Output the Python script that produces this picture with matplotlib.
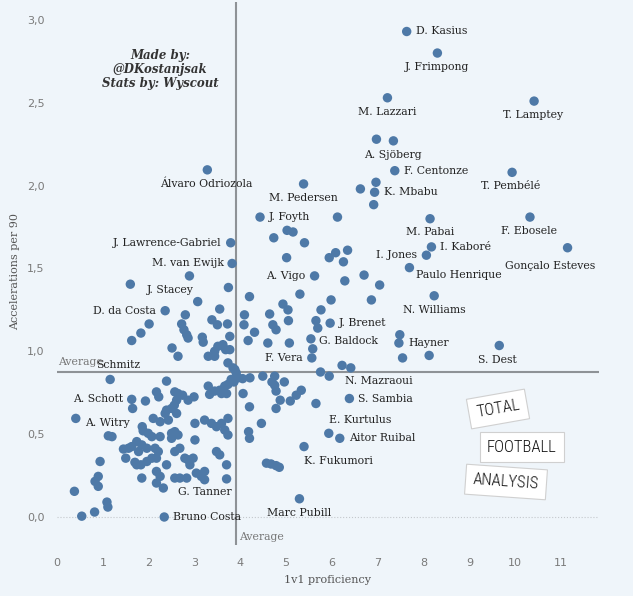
import matplotlib
matplotlib.use("Agg")
import matplotlib.pyplot as plt

# labelled players: name, 1v1 proficiency, accelerations per 90
names = ["D. Kasius", "J. Frimpong", "M. Lazzari", "T. Lamptey", "A. Sjöberg",
         "F. Centonze", "T. Pembélé", "K. Mbabu", "M. Pedersen", "Álvaro Odriozola",
         "J. Foyth", "J. Lawrence-Gabriel", "M. van Ewijk", "J. Stacey", "A. Vigo",
         "M. Pabai", "F. Ebosele", "I. Kaboré", "I. Jones", "Gonçalo Esteves",
         "Paulo Henrique", "D. da Costa", "N. Williams", "J. Brenet", "G. Baldock",
         "Hayner", "S. Dest", "F. Vera", "N. Mazraoui", "S. Sambia",
         "E. Kurtulus", "Aitor Ruibal", "K. Fukumori", "Marc Pubill", "Bruno Costa",
         "G. Tanner", "A. Witry", "A. Schott", "Schmitz"]
name_x = [7.63, 8.30, 7.21, 10.41, 7.34,
          7.37, 9.93, 6.93, 5.38, 3.28,
          4.43, 3.79, 3.82, 2.89, 5.62,
          8.14, 10.32, 8.17, 8.06, 11.14,
          7.69, 2.36, 8.23, 5.96, 5.54,
          7.46, 9.65, 5.56, 6.41, 6.38,
          5.93, 6.17, 5.39, 5.29, 2.34,
          3.70, 0.41, 1.63, 1.16]
name_y = [2.93, 2.80, 2.53, 2.51, 2.27,
          2.09, 2.08, 1.96, 2.01, 2.095,
          1.81, 1.655, 1.53, 1.455, 1.455,
          1.80, 1.81, 1.63, 1.58, 1.625,
          1.505, 1.245, 1.335, 1.17, 1.075,
          1.05, 1.035, 0.96, 0.90, 0.715,
          0.505, 0.475, 0.425, 0.11, 0.0,
          0.23, 0.595, 0.71, 0.83]

# other players (no label)
other_x = [6.97, 6.96, 6.62, 6.91, 6.12, 6.08, 6.34, 5.94, 6.25, 6.70, 7.04, 6.28,
           5.98, 6.86, 7.48, 7.54, 8.12, 6.22, 5.94, 5.75,
           5.02, 5.15, 4.73, 5.40, 5.01, 4.20, 5.30, 4.93, 5.04, 5.05, 4.64, 4.71,
           4.78, 4.09, 4.08, 4.31, 4.17, 4.60, 5.07, 5.76, 5.65, 5.69, 5.58,
           4.05, 4.21, 4.49, 4.75, 4.69, 4.75, 4.96, 4.78, 4.87, 5.09, 5.22, 5.33,
           5.65, 4.20, 4.06, 4.46, 4.78, 4.18, 4.20, 4.57, 4.67, 4.78, 4.85,
           1.60, 3.74, 3.07, 2.80, 3.55, 2.01, 1.83, 1.63, 2.72, 2.77, 2.83, 2.86,
           3.17, 3.19, 3.38, 3.50, 3.72, 3.77, 3.51, 3.62, 3.68, 3.77, 3.44, 3.30,
           3.44, 2.51, 2.64, 3.73, 3.84, 3.91, 3.95, 3.88, 2.39,
           3.30, 3.33, 3.44, 3.55, 3.59, 3.66, 3.70, 3.73, 3.80, 3.86,
           1.65, 1.93, 2.17, 2.22, 2.57, 2.64, 2.74, 2.61, 2.56, 2.86, 2.99,
           1.20, 1.12, 1.86, 1.88, 2.10, 2.25, 2.36, 2.39, 2.50, 2.61, 2.43,
           1.99, 2.07, 2.25, 2.50, 2.57, 2.64, 2.50, 3.01, 3.01,
           3.22, 3.37, 3.48, 3.59, 3.66, 3.73, 3.73,
           0.94, 0.90, 0.83, 0.90, 0.38, 1.09, 1.11, 0.82, 0.54,
           1.45, 1.50, 1.56, 1.63, 1.74, 1.78, 1.85, 1.96, 1.70, 1.74, 1.83, 1.96, 1.85,
           2.14, 2.21, 2.17, 2.07, 2.39, 2.17, 2.25, 2.17, 2.32,
           2.57, 2.68, 2.79, 2.86, 2.97, 2.90, 2.57, 2.68, 2.83,
           3.04, 3.22, 3.15, 3.22, 3.48, 3.55, 3.70]
other_y = [2.28, 2.02, 1.98, 1.885, 1.81, 1.595, 1.61, 1.565, 1.54, 1.46, 1.40, 1.425,
           1.31, 1.31, 1.10, 0.96, 0.975, 0.915, 0.85, 0.875,
           1.73, 1.72, 1.685, 1.655, 1.565, 1.33, 1.345, 1.285, 1.25, 1.185, 1.225, 1.16,
           1.13, 1.22, 1.16, 1.115, 1.065, 1.05, 1.05, 1.25, 1.185, 1.14, 1.015,
           0.835, 0.84, 0.85, 0.85, 0.815, 0.795, 0.815, 0.76, 0.705, 0.70, 0.735, 0.765,
           0.685, 0.665, 0.745, 0.565, 0.655, 0.515, 0.475, 0.325, 0.32, 0.31, 0.30,
           1.405, 1.385, 1.30, 1.22, 1.255, 1.165, 1.11, 1.065, 1.165, 1.13, 1.10, 1.08,
           1.085, 1.055, 1.19, 1.16, 1.165, 1.09, 1.03, 1.04, 1.01, 1.01, 1.00, 0.97,
           0.97, 1.02, 0.97, 0.93, 0.90, 0.87, 0.84, 0.89, 0.82,
           0.79, 0.74, 0.76, 0.765, 0.745, 0.79, 0.745, 0.80, 0.83, 0.815,
           0.655, 0.70, 0.755, 0.725, 0.755, 0.745, 0.735, 0.705, 0.675, 0.705, 0.725,
           0.485, 0.49, 0.545, 0.52, 0.595, 0.575, 0.625, 0.645, 0.655, 0.625, 0.585,
           0.505, 0.485, 0.485, 0.505, 0.515, 0.495, 0.475, 0.565, 0.465,
           0.585, 0.565, 0.545, 0.565, 0.525, 0.495, 0.595,
           0.335, 0.245, 0.215, 0.185, 0.155, 0.09, 0.06, 0.03, 0.005,
           0.41, 0.355, 0.415, 0.425, 0.455, 0.395, 0.435, 0.415, 0.33, 0.315, 0.315, 0.335, 0.235,
           0.415, 0.395, 0.355, 0.355, 0.315, 0.275, 0.245, 0.205, 0.175,
           0.395, 0.415, 0.355, 0.345, 0.355, 0.315, 0.235, 0.235, 0.235,
           0.265, 0.275, 0.245, 0.225, 0.395, 0.375, 0.315]

avg_x = 3.91
avg_y = 0.875

x_ticks = list(range(12))
y_ticks = [0.0, 0.5, 1.0, 1.5, 2.0, 2.5, 3.0]

# label offsets in pixels (dx, dy, ha)
offsets = [(9, 0, "left"), (0, -14, "center"), (0, -14, "center"), (-1, -14, "center"), (-1, -14, "center"),
           (9, 0, "left"), (-1, -14, "center"), (9, 0, "left"), (0, -14, "center"), (-1, -14, "center"),
           (9, 0, "left"), (-9, 0, "right"), (-8, 0, "right"), (-19, -14, "center"), (-9, 0, "right"),
           (0, -13, "center"), (-1, -14, "center"), (9, 0, "left"), (-9, 0, "right"), (-17, -18, "center"),
           (7, -7, "left"), (-9, 0, "right"), (0, -14, "center"), (9, 0, "left"), (8, -2, "left"),
           (9, 0, "left"), (-2, -14, "center"), (-9, 0, "right"), (-6, -13, "left"), (9, 0, "left"),
           (0, 13, "left"), (9, 0, "left"), (0, -14, "left"), (0, -14, "center"), (9, 0, "left"),
           (-22, -13, "center"), (9, -5, "left"), (-9, 0, "right"), (8, 14, "center")]

bg = "#eff5fa"
blue = "#4e79a7"
W, H = 633, 596

fig = plt.figure(figsize=(W / 100, H / 100), dpi=100, facecolor=bg)
ax = fig.add_axes([57 / W, 51 / H, 542 / W, 543 / H], facecolor=bg)

ax.axhline(0, color="#c4c8cc", lw=0.8, ls=":", zorder=1)
ax.axvline(avg_x, color="#8e9296", lw=1.5, zorder=1)
ax.axhline(avg_y, color="#8e9296", lw=1.5, zorder=1)

ax.scatter(other_x, other_y, s=46, color=blue, edgecolors="none", zorder=3)
ax.scatter(name_x, name_y, s=46, color=blue, edgecolors="none", zorder=3)

for n, x, y, (dx, dy, ha) in zip(names, name_x, name_y, offsets):
    ax.annotate(n, (x, y), xytext=(dx, dy), textcoords="offset pixels",
                ha=ha, va="center", fontsize=7.8, family="DejaVu Serif",
                color="#222222", zorder=4)

ax.annotate("Average", xy=(0, avg_y), xycoords=("axes fraction", "data"),
            xytext=(1, 10), textcoords="offset pixels", ha="left", va="center",
            fontsize=7.8, family="DejaVu Serif", color="#777777", zorder=4)
ax.annotate("Average", xy=(avg_x, 0), xycoords=("data", "axes fraction"),
            xytext=(3, 8), textcoords="offset pixels", ha="left", va="center",
            fontsize=7.8, family="DejaVu Serif", color="#777777", zorder=4)

ax.set_xlim((57 - 55) / 46, (599 - 55) / 46)
ax.set_ylim((517 - 545) / 165.7, (517 - 2) / 165.7)
ax.set_xticks(x_ticks)
ax.set_xticklabels([str(t) for t in x_ticks])
ax.set_yticks(y_ticks)
ax.set_yticklabels([f"{t:.1f}".replace(".", ",") for t in y_ticks])
ax.tick_params(length=0, labelsize=8, labelcolor="#7a7a7a", pad=9)
for lab in ax.get_xticklabels() + ax.get_yticklabels():
    lab.set_family("DejaVu Sans")
for s in ax.spines.values():
    s.set_visible(False)

fig.text(327 / W, 1 - 580 / H, "1v1 proficiency", ha="center", va="center",
         fontsize=8, family="DejaVu Serif", color="#555555")
fig.text(15 / W, 1 - 272 / H, "Accelerations per 90", ha="center", va="center",
         rotation=90, fontsize=8, family="DejaVu Serif", color="#555555")

fig.text(160 / W, 1 - 69 / H, "Made by:\n@DKostanjsak\nStats by: Wyscout",
         ha="center", va="center", fontsize=8.5, family="DejaVu Serif",
         weight="bold", style="italic", color="#333333", linespacing=1.1)

# logo
logo_font = ["Roboto Condensed", "DejaVu Sans"]
for txt, cx, cy, rot in [("TOTAL", 498, 409, 10), ("FOOTBALL", 522, 447, 0), ("ANALYSIS", 506, 482, -4)]:
    fig.text(cx / W, 1 - cy / H, txt, ha="center", va="center", rotation=rot,
             fontsize=12, family=logo_font, stretch="condensed", weight="light",
             color="#111111",
             bbox=dict(boxstyle="square,pad=0.45", fc="white", ec="#d0d0d0", lw=0.8))

fig.savefig("out.png", dpi=100, facecolor=bg)
